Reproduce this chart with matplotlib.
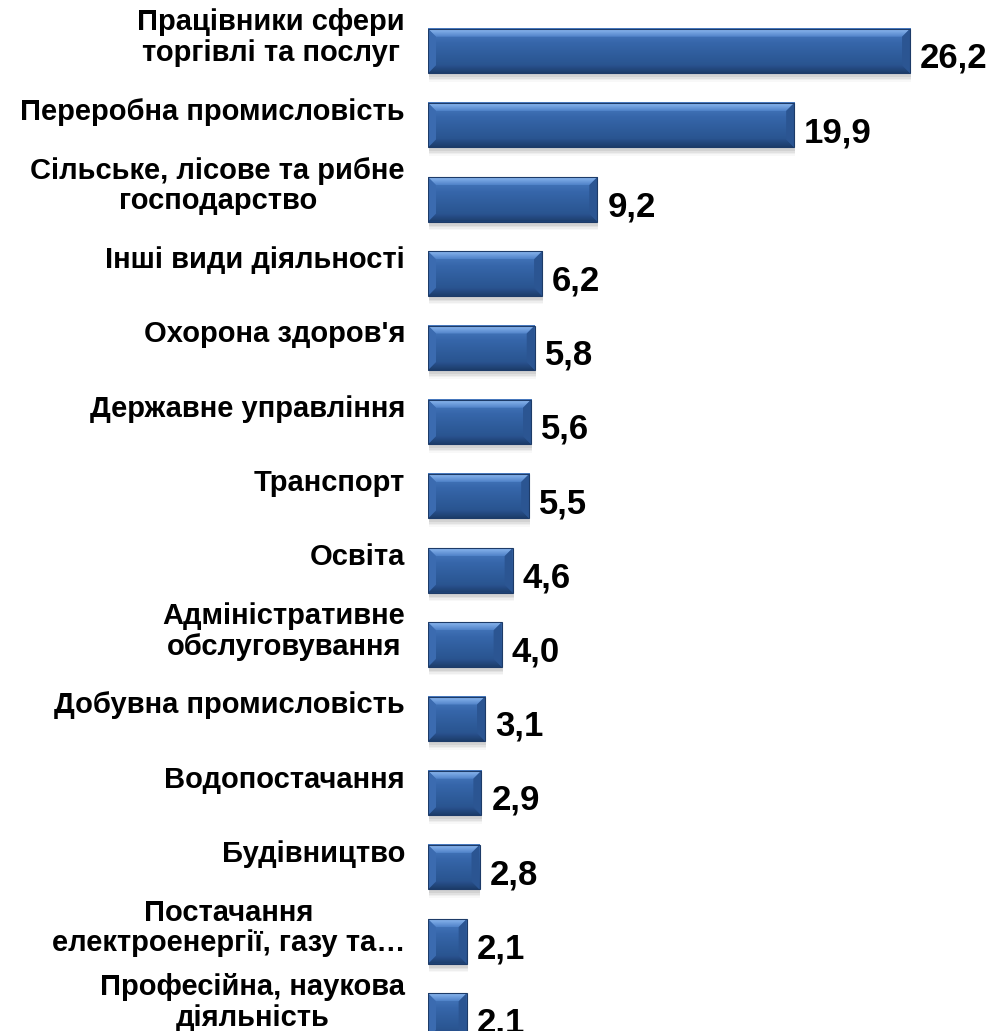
import matplotlib.pyplot as plt
import numpy as np
from matplotlib.patches import Polygon, Rectangle
from matplotlib.colors import LinearSegmentedColormap

plt.rcParams['font.family'] = ['Liberation Sans', 'DejaVu Sans']

# Data
categories = [
    'Працівники сфери\nторгівлі та послуг',
    'Переробна промисловість',
    'Сільське, лісове та рибне\nгосподарство',
    'Інші види діяльності',
    "Охорона здоров'я",
    'Державне управління',
    'Транспорт',
    'Освіта',
    'Адміністративне\nобслуговування',
    'Добувна промисловість',
    'Водопостачання',
    'Будівництво',
    'Постачання\nелектроенергії, газу та…',
    'Професійна, наукова\nдіяльність',
]
values = [26.2, 19.9, 9.2, 6.2, 5.8, 5.6, 5.5, 4.6, 4.0, 3.1, 2.9, 2.8, 2.1, 2.1]
value_labels = ['26,2', '19,9', '9,2', '6,2', '5,8', '5,6', '5,5', '4,6',
                '4,0', '3,1', '2,9', '2,8', '2,1', '2,1']

W, H = 989, 1031
fig = plt.figure(figsize=(W / 100, H / 100), dpi=100)
left_px = 428
ax = fig.add_axes([left_px / W, 0, 1 - left_px / W, 1])

px_per_unit_x = 18.4
row_px = 74.2
first_px = 51
ax.set_xlim(0, (W - left_px) / px_per_unit_x)
ax.set_ylim((H - first_px) / row_px, -first_px / row_px)
ax.axis('off')

y = np.arange(len(values))
bar_h = 0.6
bars = ax.barh(y, values, height=bar_h, color='none', edgecolor='none')

# bevel size, pixels -> data units
bx = 8 / px_per_unit_x
by = 8 / row_px

face_cmap = LinearSegmentedColormap.from_list(
    'face', ['#4A7CC2', '#3666AA', '#2D5A98', '#264E88'])
top_cmap = LinearSegmentedColormap.from_list('top', ['#8DB8F0', '#4F82C8'])
bot_cmap = LinearSegmentedColormap.from_list('bot', ['#2A5390', '#1C3C6A'])
grad = np.linspace(0, 1, 64).reshape(-1, 1)

for b in bars:
    x0, x1 = b.get_x(), b.get_x() + b.get_width()
    yt, yb = b.get_y(), b.get_y() + b.get_height()
    # soft shadow
    for k, a in enumerate([0.10, 0.08, 0.06, 0.04]):
        ax.add_patch(Rectangle((x0 + 0.05, yt + (4 + k * 1.5) / row_px),
                               x1 - x0, yb - yt, facecolor='#555555',
                               edgecolor='none', alpha=a, zorder=1))
    ax.imshow(grad, cmap=face_cmap, aspect='auto', extent=[x0, x1, yb, yt],
              zorder=2, interpolation='bilinear')
    top = Polygon([(x0, yt), (x1, yt), (x1 - bx, yt + by), (x0 + bx, yt + by)],
                  closed=True, facecolor='none', edgecolor='none')
    ax.add_patch(top)
    im = ax.imshow(grad, cmap=top_cmap, aspect='auto',
                   extent=[x0, x1, yt + by, yt], zorder=3,
                   interpolation='bilinear')
    im.set_clip_path(top)
    bot = Polygon([(x0, yb), (x1, yb), (x1 - bx, yb - by), (x0 + bx, yb - by)],
                  closed=True, facecolor='none', edgecolor='none')
    ax.add_patch(bot)
    im = ax.imshow(grad, cmap=bot_cmap, aspect='auto',
                   extent=[x0, x1, yb, yb - by], zorder=3,
                   interpolation='bilinear')
    im.set_clip_path(bot)
    lft = Polygon([(x0, yt), (x0 + bx, yt + by), (x0 + bx, yb - by), (x0, yb)],
                  closed=True, facecolor='#3B6BB0', edgecolor='none', zorder=3)
    rgt = Polygon([(x1, yt), (x1 - bx, yt + by), (x1 - bx, yb - by), (x1, yb)],
                  closed=True, facecolor='#2B5592', edgecolor='none', zorder=3)
    ax.add_patch(lft)
    ax.add_patch(rgt)
    ax.add_patch(Rectangle((x0, yt), x1 - x0, yb - yt, facecolor='none',
                           edgecolor='#1D3B68', linewidth=0.8, zorder=4))

label_x = -(left_px - 405) / px_per_unit_x
for i, cat in enumerate(categories):
    ax.text(label_x, i - 0.18, cat, ha='right', va='center',
            multialignment='center', fontsize=21, fontweight='bold',
            color='black', clip_on=False, linespacing=1.12)

for i, (v, lab) in enumerate(zip(values, value_labels)):
    ax.text(v + 10 / px_per_unit_x, i + 0.1, lab, ha='left', va='center',
            fontsize=25, fontweight='bold', color='black', clip_on=False)

fig.savefig('out.png', dpi=100, facecolor='white')
